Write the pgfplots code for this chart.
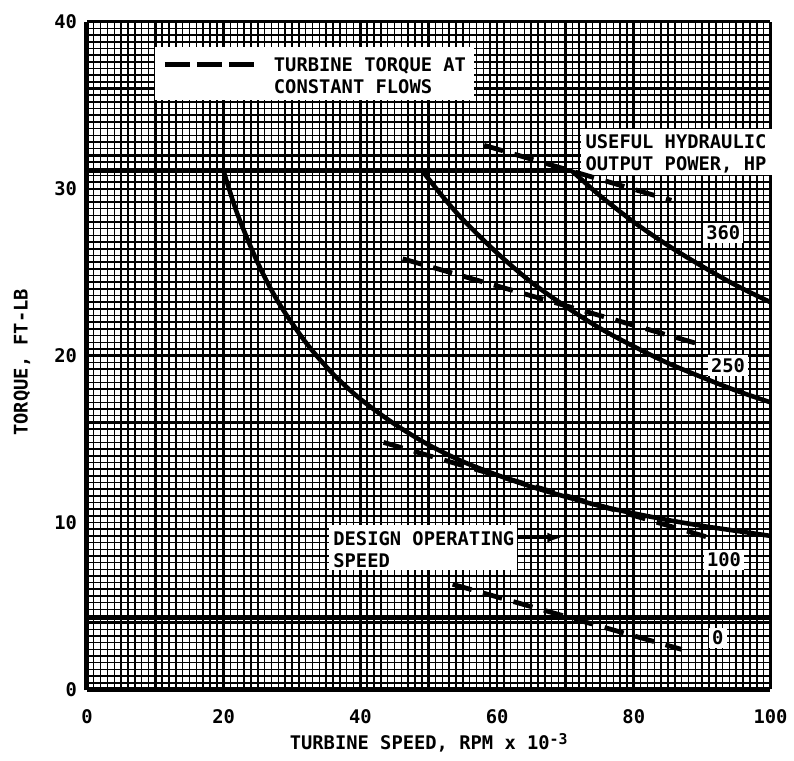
\documentclass[border=0pt]{standalone}
\usepackage{fontspec}
\setmainfont{DejaVu Sans Mono}
\usepackage{pgfplots}
\pgfplotsset{compat=1.18}
\usetikzlibrary{arrows.meta}

\tikzset{
  fineg/.style={line width=0.75pt, black},
  midg/.style={line width=0.95pt, black},
  heavyg/.style={line width=1.3pt, black},
  curve/.style={line width=2.3pt, black},
  flow/.style={line width=2.4pt, black, dash pattern=on 10pt off 6pt},
  lbl/.style={font=\fontsize{9.5}{11}\selectfont\bfseries, inner sep=0pt},
}

\begin{document}
\begin{tikzpicture}
\begin{axis}[
  scale only axis, width=346pt, height=338pt,
  xmin=0, xmax=100, ymin=0, ymax=40,
  xtick={0,20,...,100}, ytick={0,10,...,40},
  major tick length=0pt,
  axis line style={draw=none},
  clip=false,
  /pgf/number format/assume math mode=true,
  tick label style={font=\fontsize{9.5}{10}\selectfont\bfseries},
  xticklabel style={yshift=-6.5pt},
  yticklabel style={xshift=-1.5pt},
  xlabel={TURBINE SPEED, RPM x 10\raisebox{0.55ex}{\fontsize{7.5}{8}\selectfont\bfseries -3}},
  ylabel={TORQUE, FT-LB},
  label style={font=\fontsize{9.5}{11}\selectfont\bfseries},
  xlabel style={at={(axis description cs:0.5,-0.08)}, anchor=center},
  ylabel style={at={(axis description cs:-0.095,0.49)}, anchor=center},
]
% graph paper
\pgfplotsinvokeforeach{0,...,100}{\draw[fineg] (axis cs:#1,0) -- (axis cs:#1,40);}
\pgfplotsinvokeforeach{0,0.4,...,40.1}{\draw[fineg] (axis cs:0,#1) -- (axis cs:100,#1);}
\pgfplotsinvokeforeach{5,15,...,95}{\draw[midg] (axis cs:#1,0) -- (axis cs:#1,40);}
\pgfplotsinvokeforeach{2,6,...,38}{\draw[midg] (axis cs:0,#1) -- (axis cs:100,#1);}
\pgfplotsinvokeforeach{0,10,...,100}{\draw[heavyg] (axis cs:#1,0) -- (axis cs:#1,40);}
\pgfplotsinvokeforeach{0,4,...,40}{\draw[heavyg] (axis cs:0,#1) -- (axis cs:100,#1);}
\draw[line width=2.6pt] (axis cs:0,-0.05) -- (axis cs:0,40);
\draw[line width=2.2pt] (axis cs:0,0) -- (axis cs:100,0);

% white label boxes
\fill[white] (axis cs:10.0,35.3) rectangle (axis cs:56.6,38.5);
\fill[white] (axis cs:72.3,30.8) rectangle (axis cs:100.3,33.6);
\fill[white] (axis cs:35.4,7.15) rectangle (axis cs:62.9,9.85);

% design operating speed and torque limit
\addplot[line width=1.9pt, black] coordinates {(70,0)(70,40)};
\addplot[line width=2.1pt, black] coordinates {(0,31.05)(71,31.05)};

% useful hydraulic output power curves
\addplot[curve, smooth] coordinates {(0,4.3)(100,4.3)};
\addplot[curve, smooth] coordinates {
  (20,31.05)(22,28.5)(25,25.55)(28,23.2)(32,20.8)(36,18.9)(40,17.4)
  (45,15.9)(50,14.65)(55,13.65)(60,12.85)(65,12.15)(70,11.55)(75,11.0)
  (80,10.55)(85,10.15)(90,9.8)(95,9.5)(100,9.2)};
\addplot[curve, smooth] coordinates {
  (49.1,31.05)(52,29.55)(55,28.15)(60,26.15)(65,24.4)(70,22.95)
  (75,21.65)(80,20.55)(85,19.55)(90,18.7)(95,17.9)(100,17.2)};
\addplot[curve, smooth] coordinates {
  (71,31.05)(75,29.6)(80,28.0)(85,26.6)(90,25.35)(95,24.2)(100,23.2)};

% turbine torque at constant flows
\addplot[flow] coordinates {(58.1,32.6)(85.5,29.3)};
\addplot[flow] coordinates {(46.2,25.8)(90.3,20.6)};
\addplot[flow] coordinates {(43.4,14.8)(91.0,9.1)};
\addplot[flow] coordinates {(53.5,6.3)(87.0,2.4)};

% legend
\draw[line width=2.4pt, dash pattern=on 12.5pt off 3.75pt]
  (axis cs:11.4,37.45) -- (axis cs:24.4,37.45);
\node[lbl, anchor=base west] at (axis cs:27.3,37.0) {TURBINE TORQUE AT};
\node[lbl, anchor=base west] at (axis cs:27.3,35.68) {CONSTANT FLOWS};

\node[lbl, anchor=base west] at (axis cs:72.9,32.43) {USEFUL HYDRAULIC};
\node[lbl, anchor=base west] at (axis cs:72.9,31.07) {OUTPUT POWER, HP};

\node[lbl, anchor=base west] at (axis cs:36.0,8.64) {DESIGN OPERATING};
\node[lbl, anchor=base west] at (axis cs:36.0,7.28) {SPEED};
\draw[line width=1.1pt, -{Latex[length=7pt,width=5pt]}]
  (axis cs:62.9,9.1) -- (axis cs:69.4,9.1);

\node[lbl, fill=white, inner sep=1.6pt] at (axis cs:93.1,27.34) {360};
\node[lbl, fill=white, inner sep=1.6pt] at (axis cs:93.8,19.4) {250};
\node[lbl, fill=white, inner sep=1.6pt] at (axis cs:93.2,7.75) {100};
\node[lbl, fill=white, inner sep=1.6pt] at (axis cs:92.3,3.08) {0};
\end{axis}
\path ([shift={(-44pt,-36pt)}]current axis.south west)
  rectangle ([shift={(7pt,11pt)}]current axis.north east);
\end{tikzpicture}
\end{document}
